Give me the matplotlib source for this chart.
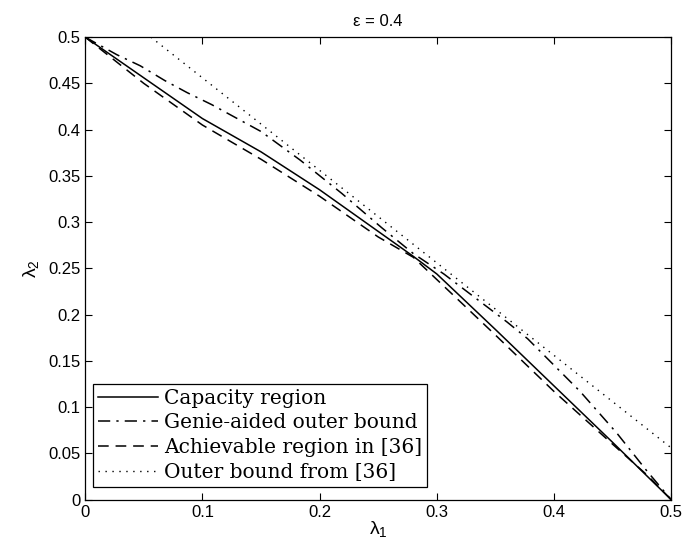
import matplotlib
matplotlib.use("Agg")
import matplotlib.pyplot as plt

# capacity region (solid)
cap_x = [0, 0.05, 0.1, 0.15, 0.2, 0.25, 0.28, 0.3, 0.35, 0.4, 0.45, 0.5]
cap_y = [0.5, 0.456, 0.412, 0.376, 0.335, 0.290, 0.263, 0.244, 0.184, 0.123, 0.062, 0.0]

# genie-aided outer bound (dash-dot)
genie_x = [0, 0.027, 0.047, 0.068, 0.087, 0.108, 0.15, 0.1835, 0.219, 0.253, 0.28,
           0.306, 0.36, 0.3775, 0.4223, 0.4536, 0.4793, 0.5]
genie_y = [0.5, 0.481, 0.469, 0.453, 0.440, 0.427, 0.398, 0.367, 0.331, 0.294, 0.266,
           0.244, 0.192, 0.174, 0.117, 0.072, 0.031, 0.0]

# achievable region in [36] (dashed)
ach_x = [0, 0.05, 0.1, 0.15, 0.2, 0.25, 0.28, 0.3, 0.35, 0.4, 0.45, 0.48, 0.5]
ach_y = [0.5, 0.450, 0.405, 0.368, 0.328, 0.284, 0.262, 0.238, 0.178, 0.117, 0.060, 0.026, 0.0]

# outer bound from [36] (dotted)
ob_x = [0.056, 0.2, 0.35, 0.5]
ob_y = [0.5, 0.356, 0.206, 0.056]

xticks = [0, 0.1, 0.2, 0.3, 0.4, 0.5]
xticklabels = ["0", "0.1", "0.2", "0.3", "0.4", "0.5"]
yticks = [0, 0.05, 0.1, 0.15, 0.2, 0.25, 0.3, 0.35, 0.4, 0.45, 0.5]
yticklabels = ["0", "0.05", "0.1", "0.15", "0.2", "0.25", "0.3", "0.35", "0.4", "0.45", "0.5"]

plt.rcParams["font.family"] = ["Liberation Sans", "DejaVu Sans"]
plt.rcParams["mathtext.fontset"] = "custom"
plt.rcParams["mathtext.rm"] = "Liberation Sans"

fig = plt.figure(figsize=(6.87, 5.54), dpi=100)
ax = fig.add_axes([0.124, 0.098, 0.853, 0.835])

lw = 1.1
ax.plot(cap_x, cap_y, color="black", lw=lw, linestyle="-", label="Capacity region")
ax.plot(genie_x, genie_y, color="black", lw=lw, linestyle=(0, (8, 4, 1.5, 4)),
        label="Genie-aided outer bound")
ax.plot(ach_x, ach_y, color="black", lw=lw, linestyle=(0, (7, 4.5)),
        label="Achievable region in [36]")
ax.plot(ob_x, ob_y, color="black", lw=1.0, linestyle=(0, (1, 4)),
        label="Outer bound from [36]")

ax.set_xlim(0, 0.5)
ax.set_ylim(0, 0.5)
ax.set_xticks(xticks)
ax.set_xticklabels(xticklabels)
ax.set_yticks(yticks)
ax.set_yticklabels(yticklabels)
ax.tick_params(direction="in", top=True, right=True, labelsize=12, length=5, width=0.8)
for s in ax.spines.values():
    s.set_linewidth(0.9)

ax.set_title("ε = 0.4", fontsize=12, pad=8)
ax.set_xlabel(r"λ$_\mathrm{1}$", fontsize=14, labelpad=0)
ax.set_ylabel(r"λ$_\mathrm{2}$", fontsize=14, labelpad=4)

leg = ax.legend(loc="lower left", bbox_to_anchor=(0.013, 0.028), fancybox=False,
                edgecolor="black", framealpha=1, handlelength=3.0, handletextpad=0.3,
                borderpad=0.25, labelspacing=0.28, borderaxespad=0,
                prop={"family": ["DejaVu Serif"], "size": 14.5})
leg.get_frame().set_linewidth(0.9)

fig.savefig("out.png", dpi=100)
